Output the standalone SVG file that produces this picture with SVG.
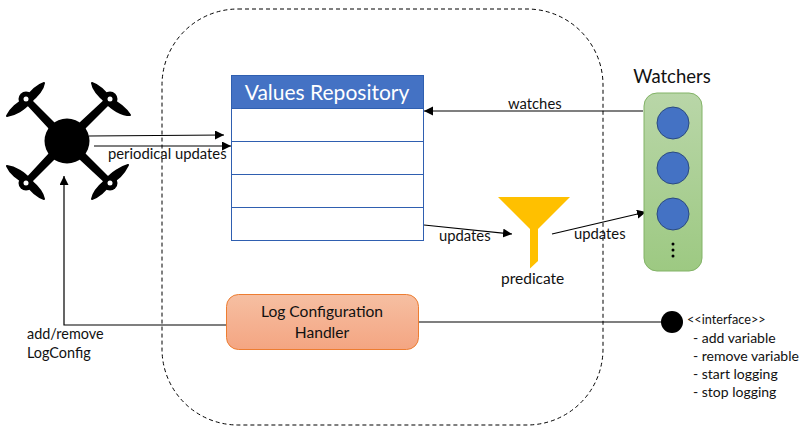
<svg xmlns="http://www.w3.org/2000/svg" width="811" height="435" viewBox="0 0 811 435">
<style>
text{font-family:Lato,"Open Sans",sans-serif;fill:#111;font-size:14.800px}
.c{fill:none;stroke:#000;stroke-width:1.2;marker-end:url(#a)}
.n{fill:none;stroke:#000;stroke-width:1.2}
.row{fill:#fff;stroke:#2f5fb0;stroke-width:1}
.dot{fill:#4472c4;stroke:#2b4a80;stroke-width:1}
.big{font-size:15.600px}
.li{font-size:14px}
</style>
<defs>
<marker id="a" markerUnits="userSpaceOnUse" markerWidth="10" markerHeight="10" refX="9" refY="4.500" orient="auto"><path d="M0 0L9 4.500L0 9z" fill="#000"/></marker>
<linearGradient id="g" x1="0" y1="0" x2="0" y2="1"><stop offset="0" stop-color="#b9d6a8"/><stop offset="1" stop-color="#9dc982"/></linearGradient>
<linearGradient id="o" x1="0" y1="0" x2="0" y2="1"><stop offset="0" stop-color="#f6bfa2"/><stop offset="1" stop-color="#f4a582"/></linearGradient>
</defs>
<rect id="boundary" x="162" y="9" width="441" height="416" rx="76" fill="none" stroke="#000" stroke-width="1" stroke-dasharray="4 3"/>
<g id="drone">
<circle cx="67" cy="141" r="22.500" fill="#000"/>
<path d="M24 102L29 97L55 123L79 123L107 97L112 102L85 129L85 153L112 180L107 185L79 159L55 159L29 185L24 180L49 153L49 129Z" fill="#000"/>
<g fill="#000" stroke="#000" stroke-width="2" stroke-linejoin="round">
<path d="M26 99C18 102 10 109 7 116C15 115 25 109 29 103ZM26 99C30 91 38 85 44 83C43 90 36 97 30 102Z"/>
<path d="M110 99C118 102 126 109 130 115C122 115 111 109 107 103ZM110 99C106 91 98 85 92 83C93 90 100 97 106 102Z"/>
<path d="M26 183C18 180 10 173 7 166C15 167 25 173 29 179ZM26 183C30 191 38 197 44 199C43 192 36 185 30 180Z"/>
<path d="M110 183C118 180 124 173 128 165C121 167 111 173 107 179ZM110 183C106 191 98 197 92 199C93 192 100 185 106 180Z"/>
</g>
<g fill="#000"><circle cx="26" cy="99" r="7.500"/><circle cx="110" cy="99" r="7.500"/><circle cx="26" cy="183" r="7.500"/><circle cx="110" cy="183" r="7.500"/></g>
<g fill="#fff"><circle cx="26" cy="99" r="2.500"/><circle cx="110" cy="99" r="2.500"/><circle cx="26" cy="183" r="2.500"/><circle cx="110" cy="183" r="2.500"/></g>
</g>
<g id="connectors">
<path class="c" d="M89 136L224 135"/>
<path class="c" d="M94 146L231 146"/>
<path class="c" d="M643 111L424 111"/>
<path class="c" d="M424 225L512 234"/>
<path class="c" d="M552 234L646 212"/>
<path class="c" d="M226 325L64 325L64 176"/>
<path class="n" d="M418 322L664 322"/>
</g>
<g id="repository">
<rect x="231.500" y="75.500" width="192" height="33" fill="#4472c4" stroke="#2f5fb0"/>
<rect class="row" x="231.500" y="108.500" width="192" height="33"/>
<rect class="row" x="231.500" y="141.500" width="192" height="33"/>
<rect class="row" x="231.500" y="174.500" width="192" height="33"/>
<rect class="row" x="231.500" y="207.500" width="192" height="33"/>
<text x="327" y="100" text-anchor="middle" style="font-size:21px;fill:#fff">Values Repository</text>
</g>
<g id="predicate">
<path d="M498 197L570 197L538 229L538 261L530 268.500L530 229Z" fill="#ffc000"/>
<text x="501" y="284" style="font-size:15.500px">predicate</text>
</g>
<g id="watchers">
<text x="672" y="83" text-anchor="middle" style="font-size:18.500px">Watchers</text>
<rect x="644" y="93" width="58" height="178" rx="13" fill="url(#g)" stroke="#82b366"/>
<circle class="dot" cx="673" cy="123" r="16"/>
<circle class="dot" cx="673" cy="168" r="16"/>
<circle class="dot" cx="673" cy="214" r="16"/>
<circle cx="673" cy="244" r="1.500" fill="#000"/><circle cx="673" cy="250" r="1.500" fill="#000"/><circle cx="673" cy="256" r="1.500" fill="#000"/>
</g>
<g id="handler">
<rect x="226.500" y="294.500" width="192" height="55" rx="12" fill="url(#o)" stroke="#ed7d31"/>
<text class="big" x="322" y="317" text-anchor="middle">Log Configuration</text>
<text class="big" x="322" y="338" text-anchor="middle">Handler</text>
</g>
<g id="interface">
<circle cx="672" cy="322" r="11" fill="#000"/>
<text x="687" y="324" style="font-size:12.700px">&lt;&lt;interface&gt;&gt;</text>
<text class="li" x="693" y="343">- add variable</text>
<text class="li" x="693" y="361">- remove variable</text>
<text class="li" x="693" y="379">- start logging</text>
<text class="li" x="693" y="397">- stop logging</text>
</g>
<g id="labels">
<text x="108" y="159">periodical updates</text>
<text x="508" y="109">watches</text>
<text x="439" y="241">updates</text>
<text x="574" y="239">updates</text>
<text x="27" y="339" style="font-size:14.400px">add/remove</text>
<text x="27" y="358" style="font-size:14.400px">LogConfig</text>
</g>
</svg>
